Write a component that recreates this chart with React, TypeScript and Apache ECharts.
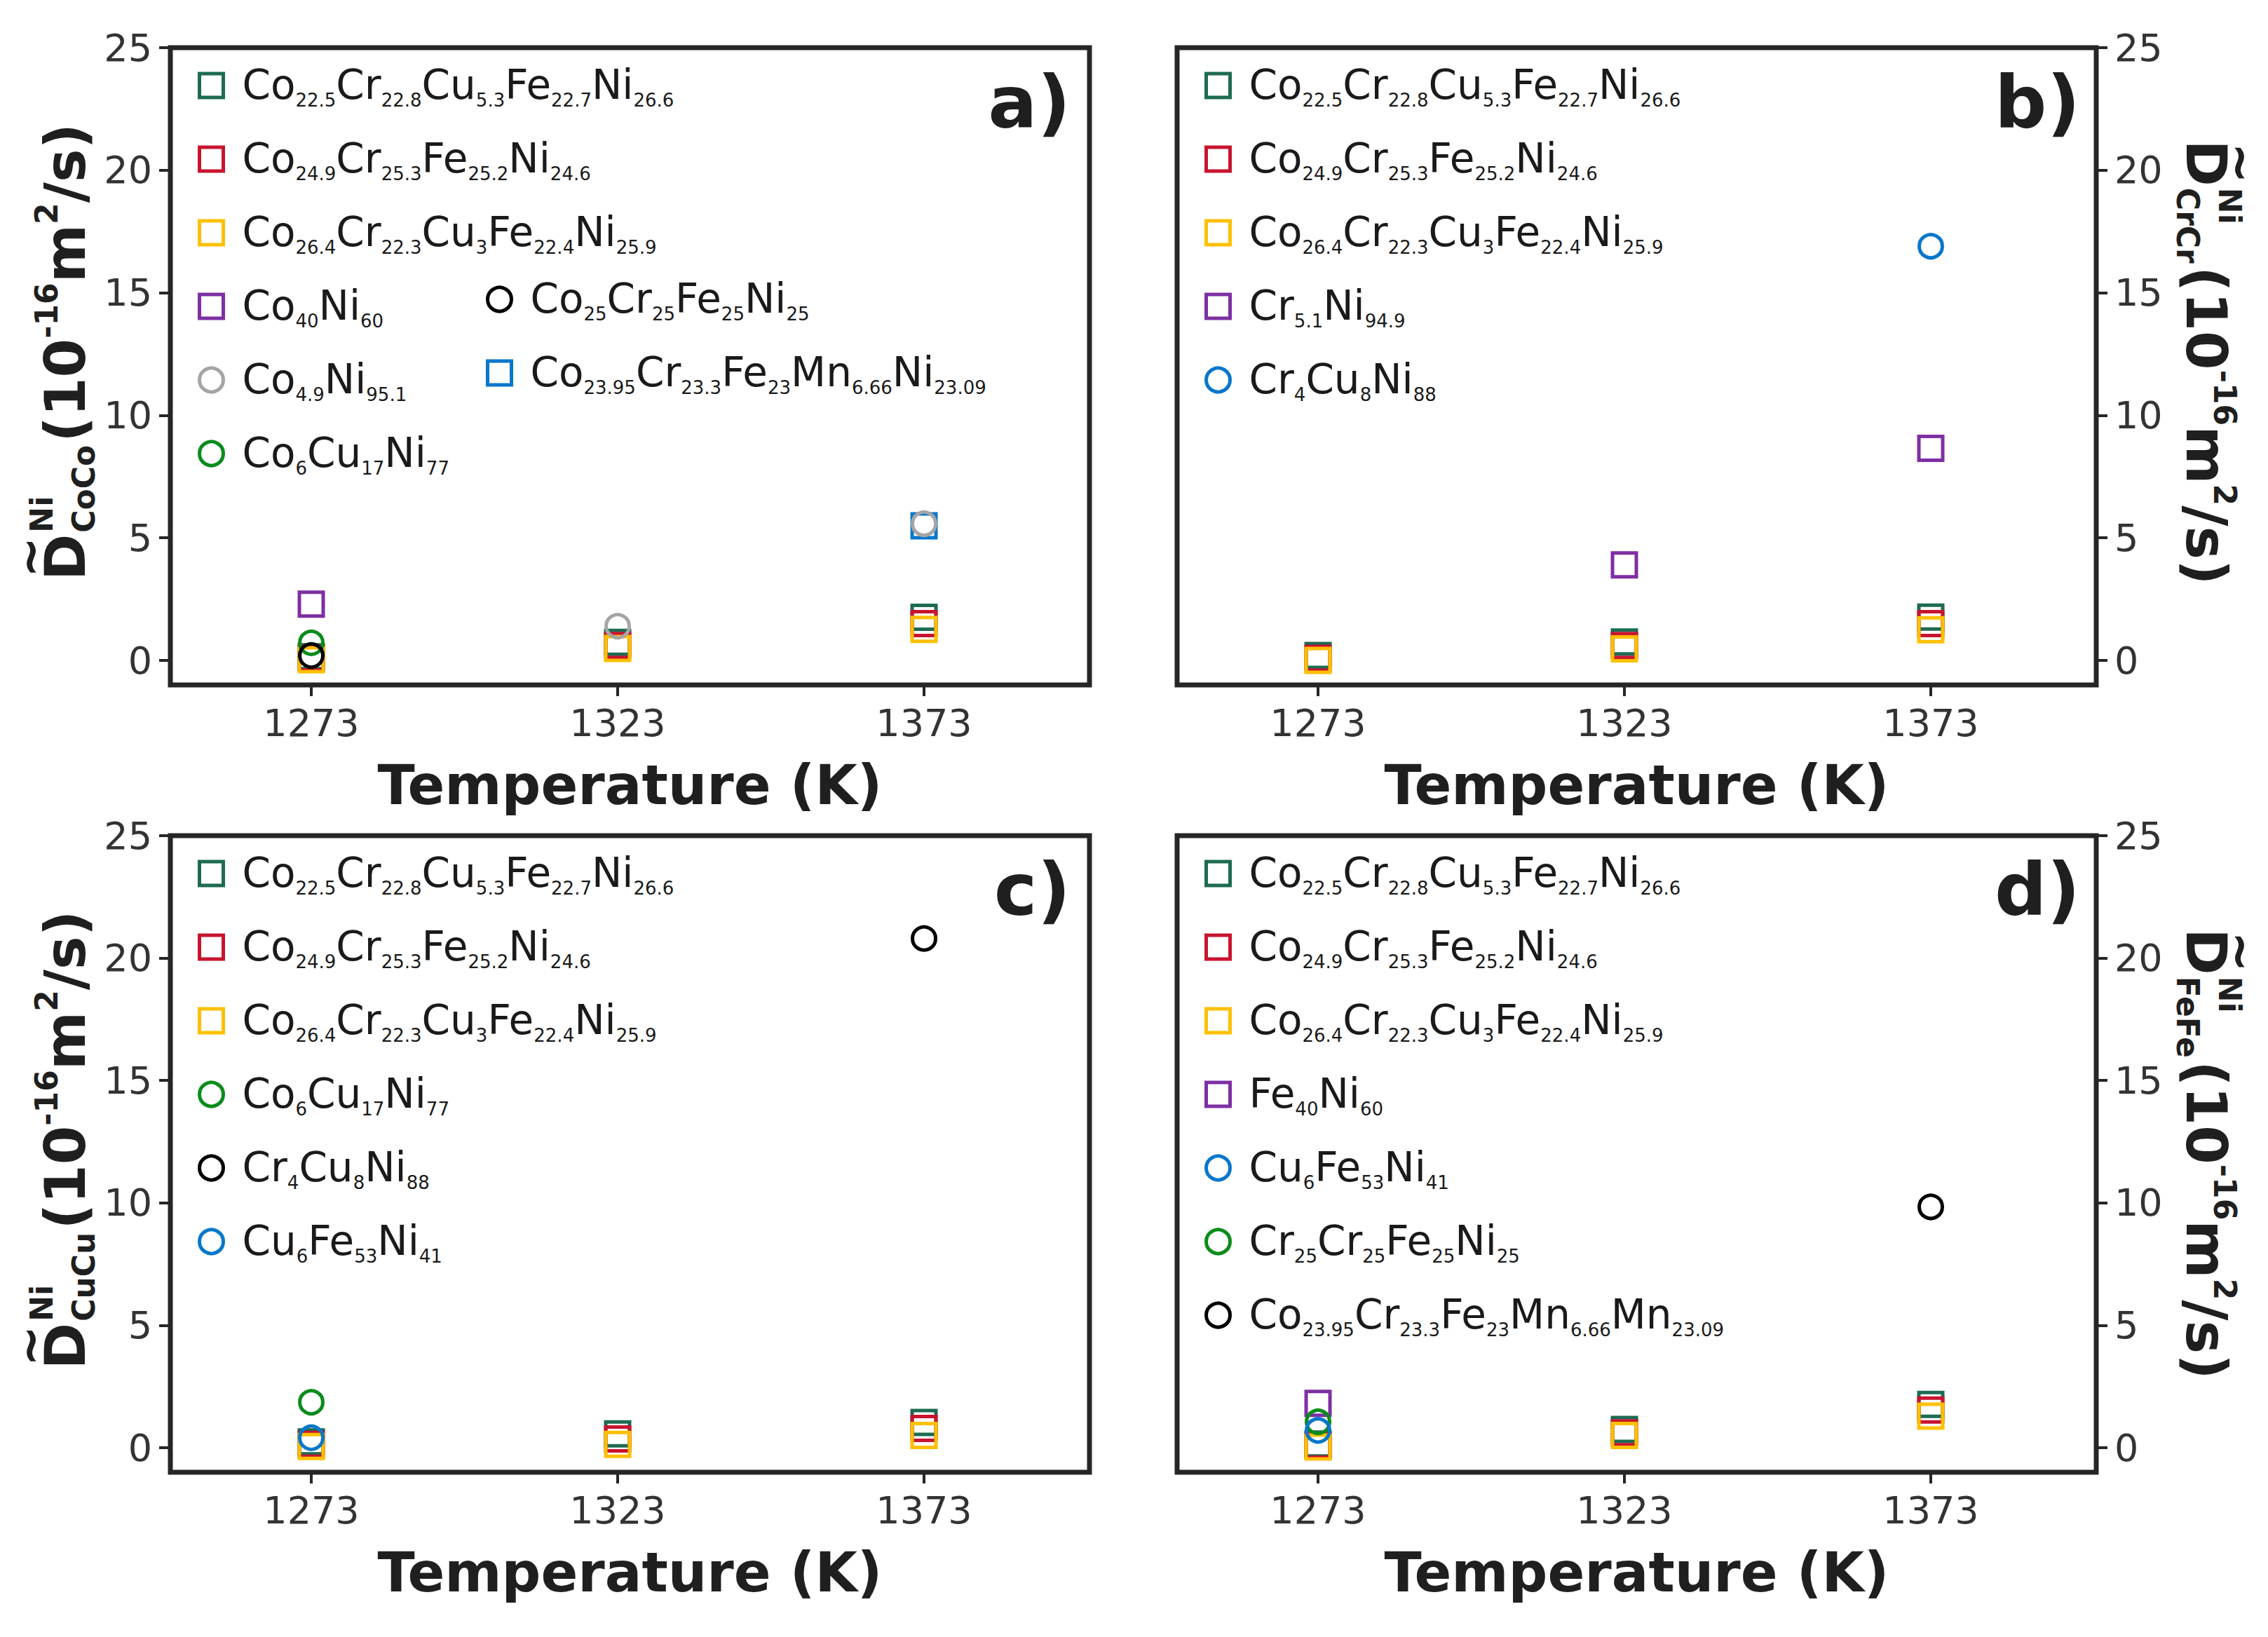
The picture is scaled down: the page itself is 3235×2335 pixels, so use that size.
import React, { useEffect, useRef } from "react";
import * as echarts from "echarts";

// ---------- data ----------
const TEMPERATURES = [1273, 1323, 1373];
const X_TICKS = [1273, 1323, 1373];
const Y_TICKS = [0, 5, 10, 15, 20, 25];

const N_CoCrCuFeNi_a = "Co22.5Cr22.8Cu5.3Fe22.7Ni26.6";
const N_CoCrFeNi_b = "Co24.9Cr25.3Fe25.2Ni24.6";
const N_CoCrCuFeNi_c = "Co26.4Cr22.3Cu3Fe22.4Ni25.9";

// panel a : D CoCo
const A_SQ_GREEN = [0.15, 0.74, 1.76];
const A_SQ_RED = [0.1, 0.61, 1.5];
const A_SQ_YELLOW = [0.03, 0.49, 1.27];
const A_Co40Ni60 = [2.3, null, null];
const A_Co25Cr25Fe25Ni25 = [0.2, null, null];
const A_Co4_9Ni95_1 = [null, 1.4, 5.58];
const A_Co23_95CrFeMnNi = [null, null, 5.49];
const A_Co6Cu17Ni77 = [0.72, null, null];

// panel b : D CrCr
const B_SQ_GREEN = [0.2, 0.75, 1.77];
const B_SQ_RED = [0.09, 0.61, 1.5];
const B_SQ_YELLOW = [0.0, 0.47, 1.25];
const B_Cr5_1Ni94_9 = [null, 3.9, 8.65];
const B_Cr4Cu8Ni88 = [null, null, 16.9];

// panel c : D CuCu
const C_SQ_GREEN = [0.24, 0.57, 1.03];
const C_SQ_RED = [0.14, 0.36, 0.79];
const C_SQ_YELLOW = [0.05, 0.14, 0.5];
const C_Co6Cu17Ni77 = [1.86, null, null];
const C_Cr4Cu8Ni88 = [null, null, 20.8];
const C_Cu6Fe53Ni41 = [0.41, null, null];

// panel d : D FeFe
const D_SQ_GREEN = [0.15, 0.75, 1.77];
const D_SQ_RED = [0.1, 0.61, 1.54];
const D_SQ_YELLOW = [0.03, 0.5, 1.29];
const D_Fe40Ni60 = [1.81, null, null];
const D_Cu6Fe53Ni41 = [0.71, null, null];
const D_Cr25Cr25Fe25Ni25 = [1.06, null, null];
const D_Co23_95CrFeMnMn = [null, null, 9.84];

// ---------- styles ----------
const GREEN_SQ = "#1d6b52";
const RED = "#c8142f";
const YELLOW = "#ffc000";
const PURPLE = "#7e2fa3";
const GREY = "#a5a5a5";
const BLACK = "#000000";
const BLUE = "#0877cc";
const GREEN_C = "#0a8c1c";
const FRAME = "#262626";
const FONT = '"DejaVu Sans", sans-serif';

type Def = { name: string; symbol: "rect" | "circle"; color: string; values: (number | null)[] };

const PANELS: {
  key: string;
  sub: string;
  grid: { left: number; top: number; width: number; height: number };
  side: "left" | "right";
  title: { x: number; y: number };
  label: { x: number; y: number };
  series: Def[];
  legends: { left: number; top: number; names: string[] }[];
}[] = [
  {
    key: "a",
    sub: "CoCo",
    grid: { left: 243, top: 68, width: 1311, height: 909 },
    side: "left",
    title: { x: 93, y: 503 },
    label: { x: 1527, y: 146 },
    series: [
      { name: N_CoCrCuFeNi_a, symbol: "rect", color: GREEN_SQ, values: A_SQ_GREEN },
      { name: N_CoCrFeNi_b, symbol: "rect", color: RED, values: A_SQ_RED },
      { name: N_CoCrCuFeNi_c, symbol: "rect", color: YELLOW, values: A_SQ_YELLOW },
      { name: "Co40Ni60", symbol: "rect", color: PURPLE, values: A_Co40Ni60 },
      { name: "Co23.95Cr23.3Fe23Mn6.66Ni23.09", symbol: "rect", color: BLUE, values: A_Co23_95CrFeMnNi },
      { name: "Co6Cu17Ni77", symbol: "circle", color: GREEN_C, values: A_Co6Cu17Ni77 },
      { name: "Co25Cr25Fe25Ni25", symbol: "circle", color: BLACK, values: A_Co25Cr25Fe25Ni25 },
      { name: "Co4.9Ni95.1", symbol: "circle", color: GREY, values: A_Co4_9Ni95_1 },
    ],
    legends: [
      { left: 282, top: 92, names: [N_CoCrCuFeNi_a, N_CoCrFeNi_b, N_CoCrCuFeNi_c, "Co40Ni60", "Co4.9Ni95.1", "Co6Cu17Ni77"] },
      { left: 693, top: 397, names: ["Co25Cr25Fe25Ni25", "Co23.95Cr23.3Fe23Mn6.66Ni23.09"] },
    ],
  },
  {
    key: "b",
    sub: "CrCr",
    grid: { left: 1679, top: 68, width: 1311, height: 909 },
    side: "right",
    title: { x: 3146, y: 516 },
    label: { x: 2967, y: 146 },
    series: [
      { name: N_CoCrCuFeNi_a, symbol: "rect", color: GREEN_SQ, values: B_SQ_GREEN },
      { name: N_CoCrFeNi_b, symbol: "rect", color: RED, values: B_SQ_RED },
      { name: N_CoCrCuFeNi_c, symbol: "rect", color: YELLOW, values: B_SQ_YELLOW },
      { name: "Cr5.1Ni94.9", symbol: "rect", color: PURPLE, values: B_Cr5_1Ni94_9 },
      { name: "Cr4Cu8Ni88", symbol: "circle", color: BLUE, values: B_Cr4Cu8Ni88 },
    ],
    legends: [
      { left: 1718, top: 92, names: [N_CoCrCuFeNi_a, N_CoCrFeNi_b, N_CoCrCuFeNi_c, "Cr5.1Ni94.9", "Cr4Cu8Ni88"] },
    ],
  },
  {
    key: "c",
    sub: "CuCu",
    grid: { left: 243, top: 1192, width: 1311, height: 908 },
    side: "left",
    title: { x: 93, y: 1627 },
    label: { x: 1527, y: 1269 },
    series: [
      { name: N_CoCrCuFeNi_a, symbol: "rect", color: GREEN_SQ, values: C_SQ_GREEN },
      { name: N_CoCrFeNi_b, symbol: "rect", color: RED, values: C_SQ_RED },
      { name: N_CoCrCuFeNi_c, symbol: "rect", color: YELLOW, values: C_SQ_YELLOW },
      { name: "Co6Cu17Ni77", symbol: "circle", color: GREEN_C, values: C_Co6Cu17Ni77 },
      { name: "Cr4Cu8Ni88", symbol: "circle", color: BLACK, values: C_Cr4Cu8Ni88 },
      { name: "Cu6Fe53Ni41", symbol: "circle", color: BLUE, values: C_Cu6Fe53Ni41 },
    ],
    legends: [
      { left: 282, top: 1216, names: [N_CoCrCuFeNi_a, N_CoCrFeNi_b, N_CoCrCuFeNi_c, "Co6Cu17Ni77", "Cr4Cu8Ni88", "Cu6Fe53Ni41"] },
    ],
  },
  {
    key: "d",
    sub: "FeFe",
    grid: { left: 1679, top: 1192, width: 1311, height: 908 },
    side: "right",
    title: { x: 3146, y: 1645 },
    label: { x: 2967, y: 1269 },
    series: [
      { name: N_CoCrCuFeNi_a, symbol: "rect", color: GREEN_SQ, values: D_SQ_GREEN },
      { name: N_CoCrFeNi_b, symbol: "rect", color: RED, values: D_SQ_RED },
      { name: N_CoCrCuFeNi_c, symbol: "rect", color: YELLOW, values: D_SQ_YELLOW },
      { name: "Fe40Ni60", symbol: "rect", color: PURPLE, values: D_Fe40Ni60 },
      { name: "Cr25Cr25Fe25Ni25", symbol: "circle", color: GREEN_C, values: D_Cr25Cr25Fe25Ni25 },
      { name: "Cu6Fe53Ni41", symbol: "circle", color: BLUE, values: D_Cu6Fe53Ni41 },
      { name: "Co23.95Cr23.3Fe23Mn6.66Mn23.09", symbol: "circle", color: BLACK, values: D_Co23_95CrFeMnMn },
    ],
    legends: [
      {
        left: 1718,
        top: 1216,
        names: [N_CoCrCuFeNi_a, N_CoCrFeNi_b, N_CoCrCuFeNi_c, "Fe40Ni60", "Cu6Fe53Ni41", "Cr25Cr25Fe25Ni25", "Co23.95Cr23.3Fe23Mn6.66Mn23.09"],
      },
    ],
  },
];

// ---------- helpers ----------
const formulaRich = (name: string) => {
  const raw = name.indexOf(":") >= 0 ? name.slice(name.indexOf(":") + 1) : name;
  return raw.replace(/([A-Z][a-z]?)([\d.]*)/g, (_m, el, num) => `{m|${el}}` + (num ? `{s|${num}}` : ""));
};

const LEGEND_RICH = {
  m: { fontFamily: FONT, fontSize: 58, lineHeight: 60, verticalAlign: "top", color: "#1a1a1a" },
  s: { fontFamily: FONT, fontSize: 26, lineHeight: 26, verticalAlign: "top", padding: [38, 0, 0, 0], color: "#1a1a1a" },
};

let measureCtx: CanvasRenderingContext2D | null = null;
const textWidth = (text: string, size: number) => {
  if (!measureCtx) measureCtx = document.createElement("canvas").getContext("2d");
  if (!measureCtx) return text.length * size * 0.6;
  measureCtx.font = `bold ${size}px "DejaVu Sans"`;
  return measureCtx.measureText(text).width;
};

const txt = (text: string, x: number, y: number, size: number, align = "left") => ({
  type: "text",
  x,
  y,
  silent: true,
  style: {
    text,
    fontFamily: FONT,
    fontWeight: "bold",
    fontSize: size,
    fill: "#1f1f1f",
    align,
    verticalAlign: "middle",
    textAlign: align,
    textVerticalAlign: "middle",
  },
});

const yTitle = (sub: string, cx: number, cy: number, side: "left" | "right") => {
  const BIG = 80;
  const SMALL = 44;
  const wD = textWidth("D", BIG);
  const wNi = textWidth("Ni", SMALL);
  const wSub = textWidth(sub, SMALL);
  const wA = textWidth("(10", BIG);
  const wB = textWidth("-16", SMALL);
  const wC = textWidth("m", BIG);
  const wE = textWidth("2", SMALL);
  const wF = textWidth("/s)", BIG);
  const stack = Math.max(wNi, wSub) + 4;
  const total = wD + stack + wA + wB + wC + wE + wF;
  let x = -total / 2;
  const children: any[] = [];
  children.push(txt("D", x, 0, BIG));
  children.push(txt("~", x + wD / 2, -50, 70, "center"));
  x += wD + 2;
  children.push(txt("Ni", x, -34, SMALL));
  children.push(txt(sub, x, 26, SMALL));
  x += stack;
  children.push(txt("(10", x, 0, BIG));
  x += wA;
  children.push(txt("-16", x, -27, SMALL));
  x += wB;
  children.push(txt("m", x, 0, BIG));
  x += wC;
  children.push(txt("2", x, -27, SMALL));
  x += wE;
  children.push(txt("/s)", x, 0, BIG));
  return {
    type: "group",
    x: cx,
    y: cy,
    rotation: side === "left" ? Math.PI / 2 : -Math.PI / 2,
    children,
  };
};

export default function App() {
  const ref = useRef<HTMLDivElement>(null);

  useEffect(() => {
    if (!ref.current) return;
    const chart = echarts.init(ref.current, undefined, { renderer: "svg" });

    const grid: any[] = [];
    const xAxis: any[] = [];
    const yAxis: any[] = [];
    const series: any[] = [];
    const legend: any[] = [];
    const graphic: any[] = [];

    PANELS.forEach((p, pi) => {
      grid.push({ ...p.grid, show: true, borderColor: FRAME, borderWidth: 7, backgroundColor: "transparent", containLabel: false });
      xAxis.push({
        type: "value",
        gridIndex: pi,
        min: 1250,
        max: 1400,
        position: "bottom",
        name: "Temperature (K)",
        nameLocation: "middle",
        nameGap: 104,
        nameTextStyle: { fontFamily: FONT, fontWeight: "bold", fontSize: 78, color: "#1f1f1f" },
        axisLine: { show: false, onZero: false },
        axisTick: { show: true, inside: false, length: 16, customValues: X_TICKS, lineStyle: { color: FRAME, width: 4 } },
        axisLabel: {
          show: true,
          margin: 27,
          customValues: X_TICKS,
          formatter: (v: number) => String(v),
          fontFamily: FONT,
          fontSize: 54,
          color: "#333333",
        },
        splitLine: { show: false },
      });
      yAxis.push({
        type: "value",
        gridIndex: pi,
        min: -1,
        max: 25,
        position: p.side,
        axisLine: { show: false, onZero: false },
        axisTick: { show: true, inside: false, length: 16, customValues: Y_TICKS, lineStyle: { color: FRAME, width: 4 } },
        axisLabel: {
          show: true,
          margin: 26,
          customValues: Y_TICKS,
          formatter: (v: number) => String(v),
          fontFamily: FONT,
          fontSize: 54,
          color: "#333333",
        },
        splitLine: { show: false },
      });
      p.series.forEach((d) => {
        series.push({
          type: "scatter",
          name: `${p.key}:${d.name}`,
          xAxisIndex: pi,
          yAxisIndex: pi,
          symbol: d.symbol,
          symbolSize: d.symbol === "rect" ? 34 : 33,
          itemStyle: { color: "rgba(0,0,0,0)", borderColor: d.color, borderWidth: 5, opacity: 1 },
          emphasis: { disabled: true },
          silent: true,
          data: TEMPERATURES.map((t, i) => (d.values[i] == null ? null : [t, d.values[i]])).filter((v) => v !== null),
        });
      });
      p.legends.forEach((lg) => {
        legend.push({
          orient: "vertical",
          left: lg.left,
          top: lg.top,
          padding: 0,
          itemGap: 41,
          itemWidth: 34,
          itemHeight: 34,
          selectedMode: false,
          itemStyle: { borderWidth: 5 },
          data: lg.names.map((n) => {
            const def = p.series.find((s) => s.name === n)!;
            return { name: `${p.key}:${n}`, icon: def.symbol };
          }),
          formatter: formulaRich,
          textStyle: { padding: [0, 0, 0, 22], color: "#1a1a1a", rich: LEGEND_RICH },
        });
      });
      graphic.push(yTitle(p.sub, p.title.x, p.title.y, p.side));
      graphic.push({
        type: "text",
        x: p.label.x,
        y: p.label.y,
        silent: true,
        style: {
          text: `${p.key})`,
          fontFamily: FONT,
          fontWeight: "bold",
          fontSize: 104,
          fill: "#1f1f1f",
          align: "right",
          verticalAlign: "middle",
          textAlign: "right",
          textVerticalAlign: "middle",
        },
      });
    });

    chart.setOption({
      animation: false,
      backgroundColor: "#ffffff",
      grid,
      xAxis,
      yAxis,
      series,
      legend,
      graphic,
    });

    return () => chart.dispose();
  }, []);

  return (
    <div
      ref={ref}
      style={{ position: "absolute", left: 0, top: 0, width: 3235, height: 2335, background: "#ffffff" }}
    />
  );
}
